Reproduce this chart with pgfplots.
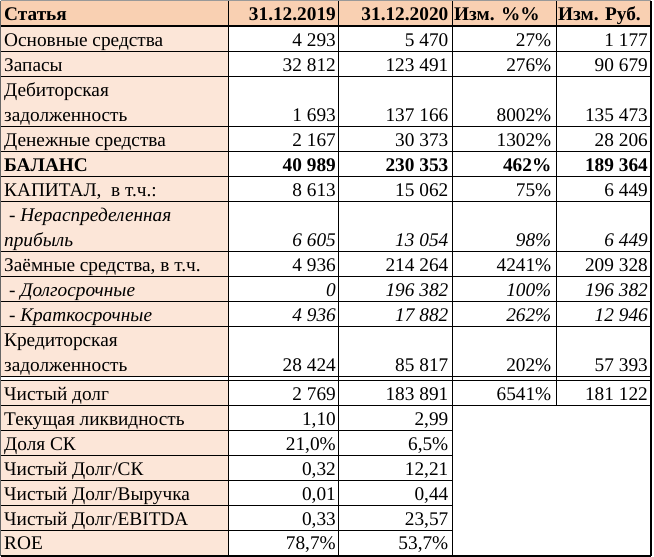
\documentclass[border=0pt]{standalone}
\usepackage{pgfplots}
\pgfplotsset{compat=1.18}
\usepackage{fontspec}
\setmainfont{Liberation Serif}
\definecolor{hdr}{HTML}{F9D0B2}
\definecolor{lab}{HTML}{FCE6D8}
\tikzset{cell/.style={inner sep=0pt,font=\rmfamily\fontsize{19.3pt}{22pt}\selectfont}}
\newcommand{\cA}{336}
\newcommand{\cB}{448.5}
\newcommand{\cC}{551.5}
\newcommand{\cD}{648}
\newcommand{\lbl}[2]{\node[cell,anchor=base west] at (axis cs:4,#1) {#2};}
\newcommand{\rowfour}[5]{%
\node[cell,anchor=base east] at (axis cs:\cA,#1) {#2};
\node[cell,anchor=base east] at (axis cs:\cB,#1) {#3};
\node[cell,anchor=base east] at (axis cs:\cC,#1) {#4};
\node[cell,anchor=base east] at (axis cs:\cD,#1) {#5};}
\newcommand{\rowtwo}[3]{%
\node[cell,anchor=base east] at (axis cs:\cA,#1) {#2};
\node[cell,anchor=base east] at (axis cs:\cB,#1) {#3};}
\begin{document}
\begin{tikzpicture}
\begin{axis}[width=654pt,height=557pt,scale only axis,
  xmin=0,xmax=654,ymin=0,ymax=557,y dir=reverse,hide axis,clip=false]
\path (axis cs:0,0) rectangle (axis cs:654,557);
% fills
\fill[hdr] (axis cs:1,1) rectangle (axis cs:651,26);
\fill[lab] (axis cs:1,26) rectangle (axis cs:228.5,376.5);
\fill[lab] (axis cs:1,380) rectangle (axis cs:228.5,555.5);
% horizontal lines, full width
\pgfplotsinvokeforeach{51.5,76.5,126.5,151.5,176.5,201.5,251.5,276.5,301.5,326.5,376.5,380,405.5}
  {\draw[line width=1pt] (axis cs:1,#1) -- (axis cs:651,#1);}
\pgfplotsinvokeforeach{430.5,455.5,480.5,505.5,530.5}
  {\draw[line width=1pt] (axis cs:1,#1) -- (axis cs:452.5,#1);}
\draw[line width=2pt] (axis cs:1,26) -- (axis cs:651,26);
\draw[line width=2pt] (axis cs:1,555.5) -- (axis cs:651,555.5);
% vertical lines
\draw[line width=1pt] (axis cs:228.5,1) -- (axis cs:228.5,555.5);
\draw[line width=1pt] (axis cs:338.5,1) -- (axis cs:338.5,555.5);
\draw[line width=1pt] (axis cs:452.5,1) -- (axis cs:452.5,555.5);
\draw[line width=1pt] (axis cs:556,1) -- (axis cs:556,405.5);
\draw[line width=1.5pt] (axis cs:651,1) -- (axis cs:651,556);
\draw[line width=1pt,black!60] (axis cs:0.5,0.5) -- (axis cs:0.5,556);
\draw[line width=1pt,black!40] (axis cs:0.5,0.5) -- (axis cs:651,0.5);
% header
\node[cell,anchor=base west] at (axis cs:4,20.5) {\bfseries Статья};
\node[cell,anchor=base east] at (axis cs:\cA,20.5) {\bfseries 31.12.2019};
\node[cell,anchor=base east] at (axis cs:\cB,20.5) {\bfseries 31.12.2020};
\node[cell,anchor=base west] at (axis cs:454,20.5) {\bfseries Изм. \%\%};
\node[cell,anchor=base west] at (axis cs:558,20.5) {\bfseries Изм. Руб.};
% rows
\lbl{46}{Основные средства}
\rowfour{46}{4 293}{5 470}{27\%}{1 177}
\lbl{71}{Запасы}
\rowfour{71}{32 812}{123 491}{276\%}{90 679}
\lbl{96}{Дебиторская}
\lbl{121}{задолженность}
\rowfour{121}{1 693}{137 166}{8002\%}{135 473}
\lbl{146}{Денежные средства}
\rowfour{146}{2 167}{30 373}{1302\%}{28 206}
\lbl{171}{\bfseries БАЛАНС}
\rowfour{171}{\bfseries 40 989}{\bfseries 230 353}{\bfseries 462\%}{\bfseries 189 364}
\lbl{196}{КАПИТАЛ,\ \ в т.ч.:}
\rowfour{196}{8 613}{15 062}{75\%}{6 449}
\lbl{221}{\itshape\ - Нераспределенная}
\lbl{246}{\itshape прибыль}
\rowfour{246}{\itshape 6 605}{\itshape 13 054}{\itshape 98\%}{\itshape 6 449}
\lbl{271}{Заёмные средства, в т.ч.}
\rowfour{271}{4 936}{214 264}{4241\%}{209 328}
\lbl{296}{\itshape\ - Долгосрочные}
\rowfour{296}{\itshape 0}{\itshape 196 382}{\itshape 100\%}{\itshape 196 382}
\lbl{321}{\itshape\ - Краткосрочные}
\rowfour{321}{\itshape 4 936}{\itshape 17 882}{\itshape 262\%}{\itshape 12 946}
\lbl{346}{Кредиторская}
\lbl{371}{задолженность}
\rowfour{371}{28 424}{85 817}{202\%}{57 393}
\lbl{400}{Чистый долг}
\rowfour{400}{2 769}{183 891}{6541\%}{181 122}
\lbl{425}{Текущая ликвидность}
\rowtwo{425}{1,10}{2,99}
\lbl{450}{Доля СК}
\rowtwo{450}{21,0\%}{6,5\%}
\lbl{475}{Чистый Долг/СК}
\rowtwo{475}{0,32}{12,21}
\lbl{500}{Чистый Долг/Выручка}
\rowtwo{500}{0,01}{0,44}
\lbl{525}{Чистый Долг/EBITDA}
\rowtwo{525}{0,33}{23,57}
\lbl{549}{ROE}
\rowtwo{549}{78,7\%}{53,7\%}
\end{axis}
\end{tikzpicture}
\end{document}
